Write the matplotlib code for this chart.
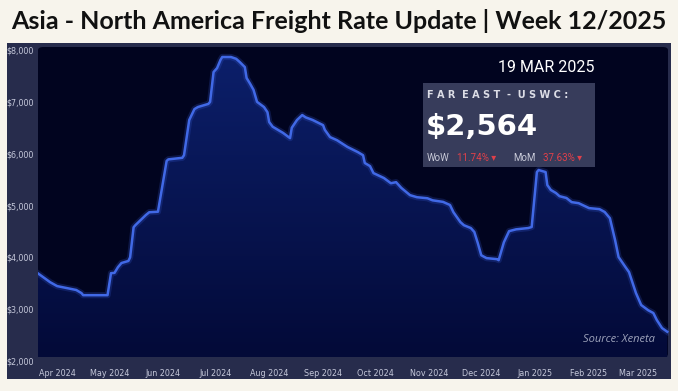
import numpy as np
import pandas as pd
import matplotlib.pyplot as plt
import matplotlib.dates as mdates
from matplotlib.patches import Rectangle, FancyBboxPatch
from matplotlib.colors import LinearSegmentedColormap

dates = ['2024-03-21', '2024-03-28', '2024-04-01', '2024-04-12', '2024-04-15', '2024-04-16',
         '2024-04-30', '2024-05-02', '2024-05-04', '2024-05-06', '2024-05-08', '2024-05-12',
         '2024-05-13', '2024-05-15', '2024-05-16', '2024-05-22', '2024-05-24', '2024-05-29',
         '2024-06-03', '2024-06-04', '2024-06-12', '2024-06-13', '2024-06-16', '2024-06-19',
         '2024-06-21', '2024-06-27', '2024-06-28', '2024-06-30', '2024-07-02', '2024-07-04',
         '2024-07-05', '2024-07-10', '2024-07-13', '2024-07-15', '2024-07-18', '2024-07-19',
         '2024-07-21', '2024-07-23', '2024-07-25', '2024-07-29', '2024-07-31', '2024-08-01',
         '2024-08-03', '2024-08-06', '2024-08-09', '2024-08-13', '2024-08-14', '2024-08-17',
         '2024-08-20', '2024-08-22', '2024-08-26', '2024-08-29', '2024-09-01', '2024-09-02',
         '2024-09-05', '2024-09-09', '2024-09-15', '2024-09-21', '2024-09-24', '2024-09-25',
         '2024-09-28', '2024-09-30', '2024-10-06', '2024-10-10', '2024-10-13', '2024-10-16',
         '2024-10-21', '2024-10-25', '2024-10-31', '2024-11-03', '2024-11-09', '2024-11-13',
         '2024-11-15', '2024-11-19', '2024-11-21', '2024-11-25', '2024-11-27', '2024-11-29',
         '2024-12-01', '2024-12-04', '2024-12-10', '2024-12-11', '2024-12-14', '2024-12-17',
         '2024-12-21', '2024-12-28', '2024-12-30', '2025-01-02', '2025-01-03', '2025-01-07',
         '2025-01-08', '2025-01-10', '2025-01-13', '2025-01-15', '2025-01-19', '2025-01-22',
         '2025-01-26', '2025-02-01', '2025-02-07', '2025-02-10', '2025-02-13', '2025-02-16',
         '2025-02-18', '2025-02-22', '2025-02-24', '2025-02-28', '2025-03-03', '2025-03-07',
         '2025-03-10', '2025-03-12', '2025-03-15', '2025-03-18']
rates = [3690, 3520, 3445, 3370, 3310, 3270,
         3270, 3695, 3700, 3810, 3890, 3930,
         4000, 4580, 4620, 4815, 4870, 4880,
         5860, 5890, 5920, 5970, 6650, 6860,
         6900, 6960, 7000, 7575, 7650, 7810,
         7865, 7865, 7830, 7770, 7670, 7460,
         7350, 7230, 7000, 6900, 6800, 6610,
         6520, 6460, 6400, 6300, 6500, 6650,
         6745, 6700, 6650, 6600, 6550, 6460,
         6320, 6260, 6130, 6030, 5970, 5820,
         5760, 5625, 5530, 5430, 5450, 5340,
         5200, 5160, 5140, 5100, 5070, 5010,
         4870, 4680, 4620, 4565, 4490, 4275,
         4040, 3985, 3965, 3945, 4290, 4505,
         4540, 4565, 4585, 5645, 5685, 5645,
         5395, 5300, 5240, 5180, 5145, 5065,
         5045, 4950, 4930, 4875, 4755, 4330,
         4005, 3810, 3715, 3310, 3080, 2980,
         2925, 2790, 2635, 2564]
yticks = [2000, 3000, 4000, 5000, 6000, 7000, 8000]
months = ['2024-04-01', '2024-05-01', '2024-06-01', '2024-07-01', '2024-08-01', '2024-09-01',
          '2024-10-01', '2024-11-01', '2024-12-01', '2025-01-01', '2025-02-01', '2025-03-01']

x = pd.to_datetime(dates)
W, H = 678, 391
fig = plt.figure(figsize=(W / 100, H / 100), dpi=100)
fig.patch.set_facecolor('#f7f4ec')

# panels (behind the axes)
fig.patches.append(Rectangle((7 / W, 1 - 379 / H), 664 / W, 336 / H, transform=fig.transFigure,
                             facecolor='#272c4c', edgecolor='none', zorder=-2))
fig.patches.append(FancyBboxPatch((38 / W, 1 - 357 / H), 630 / W, 310 / H,
                                  boxstyle='round,pad=0,rounding_size=0.008',
                                  transform=fig.transFigure, facecolor='#01041f',
                                  edgecolor='none', zorder=-1))

fig.text(0.5, 1 - 21 / H, 'Asia - North America Freight Rate Update | Week 12/2025',
         ha='center', va='center', fontsize=18, fontweight='bold',
         family=['Lato', 'DejaVu Sans'], color='#111111')

ax = fig.add_axes([38 / W, 1 - 361 / H, 631 / W, 311 / H])
ax.set_facecolor('none')
for s in ax.spines.values():
    s.set_visible(False)

xn = mdates.date2num(x)
# gradient fill under the line
grad = np.linspace(0, 1, 256).reshape(-1, 1)
cmap = LinearSegmentedColormap.from_list('g', ['#030a38', '#0c1f6a'])
im = ax.imshow(grad, aspect='auto', cmap=cmap, origin='lower',
               extent=[xn[0], xn[-1], 2070, 7900], zorder=1)
poly = ax.fill_between(x, rates, 2070, facecolor='none', edgecolor='none')
im.set_clip_path(poly.get_paths()[0], transform=ax.transData)
ax.plot(x, rates, color='#3a5fdc', lw=4.5, alpha=0.22, zorder=2)
ax.plot(x, rates, color='#4169e6', lw=1.8, zorder=3, solid_joinstyle='round')

ax.set_xlim(pd.Timestamp('2024-03-21'), pd.Timestamp('2025-03-19'))
ax.set_ylim(2000, 8000)
ax.set_yticks(yticks, ['${:,}'.format(v) for v in yticks])
mt = pd.to_datetime(months)
ax.set_xticks(mt, [m.strftime('%b %Y') for m in mt])
ax.tick_params(axis='both', length=0, labelsize=5.8, labelcolor='#c5c8da')
ax.tick_params(axis='y', pad=3)
ax.tick_params(axis='x', pad=6)

# info box
fig.text(595 / W, 1 - 68 / H, '19 MAR 2025', ha='right', va='center', fontsize=11.5,
         family='Roboto', color='white')
fig.patches.append(Rectangle((423 / W, 1 - 167 / H), 172 / W, 84 / H, transform=fig.transFigure,
                             facecolor='#3b405f', edgecolor='none', alpha=0.95, zorder=4))
fig.text(427 / W, 1 - 95 / H, 'F A R  E A S T  -  U S W C :', ha='left', va='center',
         fontsize=7, fontweight='bold', color='#dcdde6', zorder=5)
fig.text(426 / W, 1 - 127 / H, '$2,564', ha='left', va='center', fontsize=21,
         fontweight='bold', color='white', zorder=5)
fig.text(427 / W, 1 - 158 / H, 'WoW', ha='left', va='center', fontsize=7,
         family='Roboto', color='#c8cad8', zorder=5)
fig.text(457 / W, 1 - 158 / H, '11.74% ▾', ha='left', va='center', fontsize=7,
         family=['Roboto', 'DejaVu Sans'], color='#e0404a', zorder=5)
fig.text(513 / W, 1 - 158 / H, 'MoM', ha='left', va='center', fontsize=7,
         family='Roboto', color='#c8cad8', zorder=5)
fig.text(543 / W, 1 - 158 / H, '37.63% ▾', ha='left', va='center', fontsize=7,
         family=['Roboto', 'DejaVu Sans'], color='#e0404a', zorder=5)

fig.text(655 / W, 1 - 339 / H, 'Source: Xeneta', ha='right', va='center', fontsize=8,
         style='italic', family='Open Sans', color='#9ea3bb')

fig.savefig('out.png', dpi=100, facecolor=fig.get_facecolor())
